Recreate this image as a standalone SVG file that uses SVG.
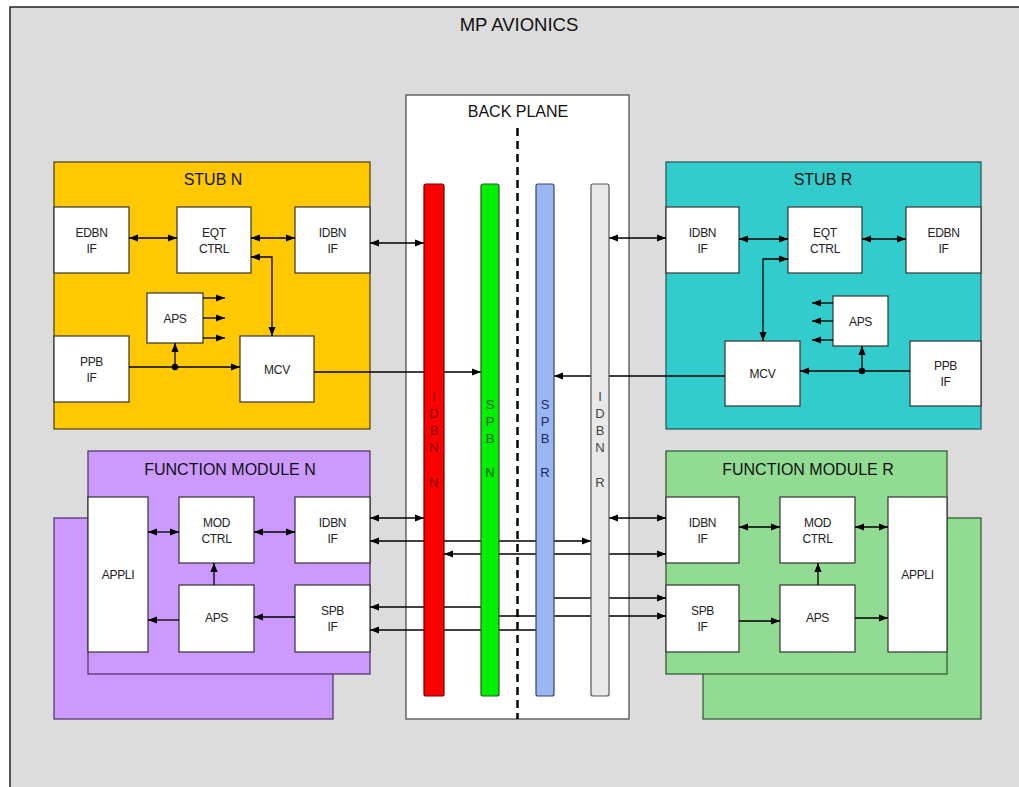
<svg xmlns="http://www.w3.org/2000/svg" width="1019" height="787" viewBox="0 0 1019 787">
<defs>
<marker id="ah" viewBox="0 0 10 8" refX="10" refY="4" markerWidth="9" markerHeight="7.5" markerUnits="userSpaceOnUse" orient="auto-start-reverse"><path d="M0,0 L10,4 L0,8 z" fill="#000"/></marker>
<style>
text{font-family:"Liberation Sans",Arial,sans-serif;fill:#111;text-anchor:middle}
.t{font-size:18.5px}
.h{font-size:16px}
.l{font-size:12px;letter-spacing:-0.3px;fill:#222}
.node{fill:#fff;stroke:#333;stroke-width:1.2}
.c{fill:none;stroke:#000;stroke-width:1.3}
.s{marker-end:url(#ah)}
.d{marker-start:url(#ah);marker-end:url(#ah)}
.bt{font-size:13px}
</style>
</defs>
<rect x="0" y="0" width="1019" height="787" fill="#fff"/>
<rect id="frame" x="10" y="7" width="1020" height="800" fill="#DCDCDC" stroke="#222" stroke-width="1.5"/>
<text class="t" x="519" y="31">MP AVIONICS</text>

<g id="backplane">
<rect x="406" y="95" width="223" height="624" fill="#fff" stroke="#444" stroke-width="1.2"/>
<text class="h" x="518" y="117">BACK PLANE</text>
<line x1="517.5" y1="128" x2="517.5" y2="719" stroke="#000" stroke-width="2.5" stroke-dasharray="8,5"/>
</g>

<g id="stub-n">
<rect x="54" y="162" width="316" height="267" fill="#FFC800" stroke="#4a3f10" stroke-width="1.2"/>
<text class="h" x="213" y="185">STUB N</text>
<g id="stubn-edbn"><rect class="node" x="54" y="207" width="75" height="66"/><text class="l" x="91.5" y="236.5">EDBN</text><text class="l" x="91.5" y="252.5">IF</text></g>
<g id="stubn-eqt"><rect class="node" x="177" y="207" width="74" height="66"/><text class="l" x="214" y="236.5">EQT</text><text class="l" x="214" y="252.5">CTRL</text></g>
<g id="stubn-idbn"><rect class="node" x="295" y="207" width="75" height="66"/><text class="l" x="332.5" y="236.5">IDBN</text><text class="l" x="332.5" y="252.5">IF</text></g>
<g id="stubn-aps"><rect class="node" x="147" y="293" width="56" height="50"/><text class="l" x="175" y="322.5">APS</text></g>
<g id="stubn-ppb"><rect class="node" x="54" y="336" width="75" height="66"/><text class="l" x="91.5" y="365.5">PPB</text><text class="l" x="91.5" y="381.5">IF</text></g>
<g id="stubn-mcv"><rect class="node" x="240" y="336" width="74" height="66"/><text class="l" x="277" y="373.5">MCV</text></g>
</g>

<g id="stub-r">
<rect x="666" y="162" width="315" height="267" fill="#33CCCC" stroke="#1d5555" stroke-width="1.2"/>
<text class="h" x="823" y="185">STUB R</text>
<g id="stubr-idbn"><rect class="node" x="666" y="207" width="73" height="66"/><text class="l" x="702.5" y="236.5">IDBN</text><text class="l" x="702.5" y="252.5">IF</text></g>
<g id="stubr-eqt"><rect class="node" x="788" y="207" width="74" height="66"/><text class="l" x="825" y="236.5">EQT</text><text class="l" x="825" y="252.5">CTRL</text></g>
<g id="stubr-edbn"><rect class="node" x="906" y="207" width="75" height="66"/><text class="l" x="943.5" y="236.5">EDBN</text><text class="l" x="943.5" y="252.5">IF</text></g>
<g id="stubr-aps"><rect class="node" x="833" y="296" width="55" height="50"/><text class="l" x="860.5" y="325.5">APS</text></g>
<g id="stubr-mcv"><rect class="node" x="725" y="341" width="75" height="65"/><text class="l" x="762.5" y="378">MCV</text></g>
<g id="stubr-ppb"><rect class="node" x="910" y="341" width="71" height="65"/><text class="l" x="945.5" y="370">PPB</text><text class="l" x="945.5" y="386">IF</text></g>
</g>

<g id="fm-n">
<rect x="54" y="518" width="279" height="201" fill="#CC99FF" stroke="#4a3060" stroke-width="1.2"/>
<rect x="88" y="451" width="282" height="223" fill="#CC99FF" stroke="#4a3060" stroke-width="1.2"/>
<text class="h" x="230" y="475">FUNCTION MODULE N</text>
<g id="fmn-appli"><rect class="node" x="88" y="497" width="60" height="155"/><text class="l" x="118" y="579">APPLI</text></g>
<g id="fmn-mod"><rect class="node" x="179" y="497" width="75" height="66"/><text class="l" x="216.5" y="526.5">MOD</text><text class="l" x="216.5" y="542.5">CTRL</text></g>
<g id="fmn-idbn"><rect class="node" x="295" y="497" width="75" height="66"/><text class="l" x="332.5" y="526.5">IDBN</text><text class="l" x="332.5" y="542.5">IF</text></g>
<g id="fmn-aps"><rect class="node" x="179" y="585" width="75" height="67"/><text class="l" x="216.5" y="622">APS</text></g>
<g id="fmn-spb"><rect class="node" x="295" y="585" width="75" height="67"/><text class="l" x="332.5" y="614.5">SPB</text><text class="l" x="332.5" y="630.5">IF</text></g>
</g>

<g id="fm-r">
<rect x="703" y="518" width="278" height="201" fill="#92DB92" stroke="#2a552a" stroke-width="1.2"/>
<rect x="666" y="451" width="281" height="223" fill="#92DB92" stroke="#2a552a" stroke-width="1.2"/>
<text class="h" x="808" y="475">FUNCTION MODULE R</text>
<g id="fmr-idbn"><rect class="node" x="666" y="497" width="73" height="66"/><text class="l" x="702.5" y="526.5">IDBN</text><text class="l" x="702.5" y="542.5">IF</text></g>
<g id="fmr-mod"><rect class="node" x="780" y="497" width="75" height="66"/><text class="l" x="817.5" y="526.5">MOD</text><text class="l" x="817.5" y="542.5">CTRL</text></g>
<g id="fmr-appli"><rect class="node" x="888" y="497" width="59" height="155"/><text class="l" x="917.5" y="579">APPLI</text></g>
<g id="fmr-spb"><rect class="node" x="666" y="585" width="73" height="67"/><text class="l" x="702.5" y="614.5">SPB</text><text class="l" x="702.5" y="630.5">IF</text></g>
<g id="fmr-aps"><rect class="node" x="780" y="585" width="75" height="67"/><text class="l" x="817.5" y="622">APS</text></g>
</g>

<g id="connectors">
<!-- stub N -->
<line class="c d" x1="129" y1="238" x2="177" y2="238"/>
<line class="c d" x1="251" y1="238" x2="295" y2="238"/>
<path class="c d" d="M251,257 H272 V336"/>
<line class="c s" x1="203" y1="298" x2="225" y2="298"/>
<line class="c s" x1="203" y1="318" x2="225" y2="318"/>
<line class="c s" x1="203" y1="338" x2="225" y2="338"/>
<line class="c s" x1="129" y1="367" x2="240" y2="367"/>
<line class="c s" x1="175" y1="367" x2="175" y2="343"/>
<circle cx="175" cy="367" r="3.2" fill="#000"/>
<line class="c d" x1="370" y1="243" x2="424" y2="243"/>
<line class="c s" x1="314" y1="372" x2="481" y2="372"/>
<!-- stub R -->
<line class="c d" x1="739" y1="239" x2="788" y2="239"/>
<line class="c d" x1="862" y1="239" x2="906" y2="239"/>
<path class="c d" d="M788,259 H763 V341"/>
<line class="c s" x1="833" y1="303" x2="812" y2="303"/>
<line class="c s" x1="833" y1="321" x2="812" y2="321"/>
<line class="c s" x1="833" y1="340" x2="812" y2="340"/>
<line class="c s" x1="910" y1="371" x2="800" y2="371"/>
<line class="c s" x1="862" y1="371" x2="862" y2="346"/>
<circle cx="862" cy="371" r="3.2" fill="#000"/>
<line class="c d" x1="609" y1="238" x2="666" y2="238"/>
<line class="c s" x1="725" y1="376" x2="554" y2="376"/>
<!-- FM N -->
<line class="c d" x1="148" y1="532" x2="179" y2="532"/>
<line class="c d" x1="254" y1="532" x2="295" y2="532"/>
<line class="c s" x1="214" y1="585" x2="214" y2="563"/>
<line class="c s" x1="295" y1="617" x2="254" y2="617"/>
<line class="c s" x1="179" y1="620" x2="148" y2="620"/>
<!-- FM R -->
<line class="c d" x1="739" y1="527" x2="780" y2="527"/>
<line class="c d" x1="855" y1="527" x2="888" y2="527"/>
<line class="c s" x1="818" y1="585" x2="818" y2="563"/>
<line class="c s" x1="739" y1="621" x2="780" y2="621"/>
<line class="c s" x1="855" y1="618" x2="888" y2="618"/>
<!-- backplane links -->
<line class="c d" x1="370" y1="518" x2="424" y2="518"/>
<line class="c d" x1="370" y1="541" x2="591" y2="541"/>
<line class="c d" x1="444" y1="554" x2="666" y2="554"/>
<line class="c d" x1="609" y1="518" x2="666" y2="518"/>
<line class="c s" x1="554" y1="598" x2="666" y2="598"/>
<line class="c s" x1="481" y1="607" x2="370" y2="607"/>
<line class="c s" x1="499" y1="616" x2="666" y2="616"/>
<line class="c s" x1="536" y1="630" x2="370" y2="630"/>
</g>

<g id="bus-idbn-n">
<rect x="424" y="184" width="20" height="512" rx="2" fill="#FF0000" stroke="#6a0000" stroke-width="1.2"/>
<text class="bt" fill="#7a0000" style="fill:#7a0000"><tspan x="434" y="401">I</tspan><tspan x="434" y="418">D</tspan><tspan x="434" y="435">B</tspan><tspan x="434" y="452">N</tspan><tspan x="434" y="487">N</tspan></text>
</g>
<g id="bus-spb-n">
<rect x="481" y="184" width="18" height="512" rx="2" fill="#00EE00" stroke="#1f5f1f" stroke-width="1.2"/>
<text class="bt" style="fill:#0a5a0a"><tspan x="490" y="409">S</tspan><tspan x="490" y="426">P</tspan><tspan x="490" y="443">B</tspan><tspan x="490" y="477">N</tspan></text>
</g>
<g id="bus-spb-r">
<rect x="536" y="184" width="18" height="512" rx="2" fill="#9BB5F3" stroke="#334466" stroke-width="1.2"/>
<text class="bt" style="fill:#1a2a66"><tspan x="545" y="409">S</tspan><tspan x="545" y="426">P</tspan><tspan x="545" y="443">B</tspan><tspan x="545" y="477">R</tspan></text>
</g>
<g id="bus-idbn-r">
<rect x="591" y="184" width="18" height="512" rx="2" fill="#E8E8E8" stroke="#555" stroke-width="1.2"/>
<text class="bt" style="fill:#444"><tspan x="600" y="401">I</tspan><tspan x="600" y="418">D</tspan><tspan x="600" y="435">B</tspan><tspan x="600" y="452">N</tspan><tspan x="600" y="487">R</tspan></text>
</g>
</svg>
